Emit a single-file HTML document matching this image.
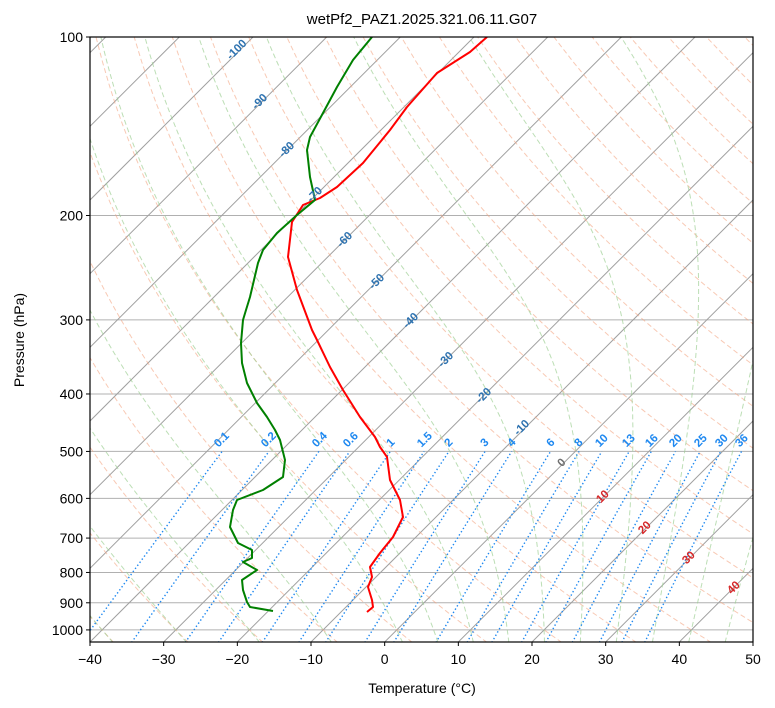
<!DOCTYPE html>
<html><head><meta charset="utf-8"><style>
html,body{margin:0;padding:0;background:#fff;}
svg{display:block;font-family:"Liberation Sans","DejaVu Sans",sans-serif;}
</style></head><body>
<svg id="s" width="775" height="708" viewBox="0 0 775 708" xmlns="http://www.w3.org/2000/svg">
<defs><clipPath id="c"><rect x="90" y="37" width="663" height="605"/></clipPath></defs>
<rect width="775" height="708" fill="#fff"/>
<g id="grid" clip-path="url(#c)"></g>
<g id="axes"></g>
<text x="422" y="24" font-size="15" text-anchor="middle">wetPf2_PAZ1.2025.321.06.11.G07</text>
<text x="422" y="693" font-size="14" text-anchor="middle">Temperature (°C)</text>
<text transform="translate(24,340) rotate(-90)" font-size="14" text-anchor="middle">Pressure (hPa)</text>
</svg>
<script>
var NS="http://www.w3.org/2000/svg";
var G=document.getElementById('grid'),A=document.getElementById('axes');
function Y(p){return 37+257.5*Math.log(p/100);}
function X(T,y){return 90+7.3667*(T+40)+(642-y);}
function el(par,tag,at,txt){var e=document.createElementNS(NS,tag);for(var k in at)e.setAttribute(k,at[k]);if(txt!=null)e.textContent=txt;par.appendChild(e);return e;}
function pl(pts,st){var d=pts.map(function(q,i){return (i?'L':'M')+q[0].toFixed(1)+' '+q[1].toFixed(1);}).join('');var a={d:d,fill:'none'};for(var k in st)a[k]=st[k];el(G,'path',a);}
[100,200,300,400,500,600,700,800,900,1000].forEach(function(p){var y=Y(p);el(G,'line',{x1:90,x2:753,y1:y,y2:y,stroke:'#b0b0b0','stroke-width':1});});
for(var T=-200;T<=60;T+=10){pl([[X(T,642),642],[X(T,37),37]],{stroke:'#a0a0a0','stroke-width':1});}
for(var th=-50;th<=250;th+=10){var pts=[];for(var p=1050;p>=100;p-=10){var t=(th+273.15)*Math.pow(p/1000,0.2857)-273.15;var y=Y(p);pts.push([X(t,y),y]);}pl(pts,{stroke:'#f4a582','stroke-width':1,'stroke-dasharray':'5,3','stroke-opacity':0.6});}
function es(T){return 6.112*Math.exp(17.67*(T-273.15)/(T-29.65));}
function dTdp(T,p){var e=es(T),rs=0.622*e/(p-e);return (287*T+2.501e6*rs)/(p*(1005+2.501e6*2.501e6*rs*0.622/(287*T*T)));}
var m0=[-50,-40,-30,-20,-10,0,5,10,15,20,25,30,35,40,45];
m0.forEach(function(t0){var up=[],T=t0+273.15,p;for(p=1000;p>=100;p-=5){var y=Y(p);up.push([X(T-273.15,y),y]);T-=dTdp(T,p)*5;}
T=t0+273.15;var dn=[];for(p=1000;p<=1050;p+=5){var y2=Y(p);dn.unshift([X(T-273.15,y2),y2]);T+=dTdp(T,p)*5;}
pl(dn.concat(up),{stroke:'#9fd096','stroke-width':1,'stroke-dasharray':'5,3','stroke-opacity':0.7});});
var wl=[0.1,0.2,0.4,0.6,1,1.5,2,3,4,6,8,10,13,16,20,25,30,36];
wl.forEach(function(w){var pts=[];for(var p=1050;p>=500;p-=10){var e=p*w/(622+w);var l=Math.log(e/6.112);var td=243.5*l/(17.67-l);var y=Y(p);pts.push([X(td,y),y]);}pl(pts,{stroke:'#1e88f0','stroke-width':1.4,'stroke-dasharray':'1.4,2.4'});});
var red=[[487,37],[470,52],[437,73],[407,107],[390,130],[363,163],[337,187],[320,198],[303,205],[292,222],[288,257],[297,290],[312,330],[317,340],[330,367],[343,390],[360,417],[375,437],[380,447],[387,457],[390,480],[400,500],[403,517],[393,537],[380,553],[370,567],[372,577],[368,587],[372,600],[373,607],[367,612]];
var grn=[[372,37],[353,60],[337,87],[323,113],[310,137],[307,150],[310,177],[315,200],[297,215],[277,233],[263,250],[258,263],[250,297],[246,310],[243,320],[241,343],[242,363],[247,383],[257,403],[267,417],[275,430],[280,440],[285,460],[283,477],[263,490],[237,500],[233,510],[230,527],[238,543],[252,550],[252,558],[243,562],[257,570],[242,580],[243,590],[247,602],[250,607],[273,611]];
pl(red,{stroke:'#ff0000','stroke-width':2,'stroke-linejoin':'round'});
pl(grn,{stroke:'#008000','stroke-width':2,'stroke-linejoin':'round'});
function lab(x,y,t,c){el(G,'text',{x:x,y:y,transform:'rotate(-45 '+x+' '+y+')','font-size':11.5,'font-weight':'bold',fill:c,'text-anchor':'middle','dominant-baseline':'central'},t);}
[[237,50,'-100'],[260,102,'-90'],[287,150,'-80'],[315,195,'-70'],[345,240,'-60'],[377,282,'-50'],[411,321,'-40'],[446,360,'-30'],[484,396,'-20'],[522,428,'-10']].forEach(function(a){lab(a[0],a[1],a[2],'#2d72b0');});
lab(562,463,'0','#707070');
[[603,497,'10'],[645,528,'20'],[689,558,'30'],[734,588,'40']].forEach(function(a){lab(a[0],a[1],a[2],'#d62728');});
[[222,440,'0.1'],[269,440,'0.2'],[320,440,'0.4'],[351,440,'0.6'],[391,443,'1'],[425,440,'1.5'],[449,443,'2'],[485,443,'3'],[512,443,'4'],[551,443,'6'],[579,443,'8'],[602,441,'10'],[629,441,'13'],[652,441,'16'],[676,441,'20'],[701,441,'25'],[722,441,'30'],[742,441,'36']].forEach(function(a){lab(a[0],a[1],a[2],'#1e88f0');});
el(A,'rect',{x:90,y:37,width:663,height:605,fill:'none',stroke:'#000','stroke-width':1.2});
[100,200,300,400,500,600,700,800,900,1000].forEach(function(p){var y=Y(p);el(A,'line',{x1:86,x2:90,y1:y,y2:y,stroke:'#000'});el(A,'text',{x:83,y:y+5,'font-size':14,'text-anchor':'end'},String(p));});
for(var t=-40;t<=50;t+=10){var x=90+7.3667*(t+40);el(A,'line',{x1:x,x2:x,y1:642,y2:646,stroke:'#000'});el(A,'text',{x:x,y:664,'font-size':14,'text-anchor':'middle'},(t<0?'−'+(-t):String(t)));}
</script>
</body></html>
